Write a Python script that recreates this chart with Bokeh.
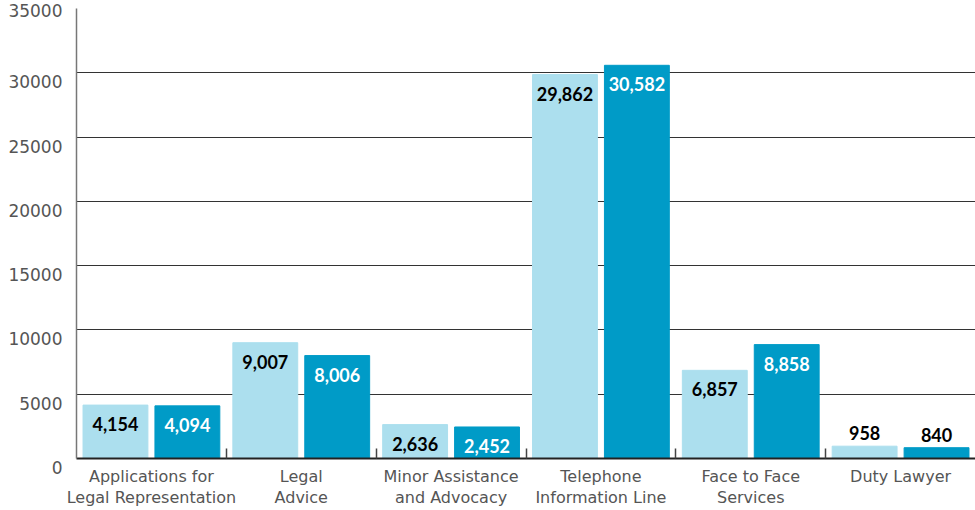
from bokeh.plotting import figure
from bokeh.models import ColumnDataSource, FixedTicker, Range1d
from bokeh.core.properties import value
from bokeh.embed import file_html
from bokeh.resources import INLINE

categories = ["Applications for\nLegal Representation", "Legal\nAdvice", "Minor Assistance\nand Advocacy",
              "Telephone\nInformation Line", "Face to Face\nServices", "Duty Lawyer"]
prev_year = [4154, 9007, 2636, 29862, 6857, 958]
curr_year = [4094, 8006, 2452, 30582, 8858, 840]
y_ticks = [0, 5000, 10000, 15000, 20000, 25000, 30000, 35000]

LIGHT = "#acdfee"
DARK = "#009bc7"
FONT = "Lato"
AXFONT = "DejaVu Sans"

n = len(categories)
centers = [i + 0.5 for i in range(n)]
off = 0.24
bw = 0.433

p = figure(width=975, height=510, output_backend="svg", toolbar_location=None,
           x_range=Range1d(0, n), y_range=Range1d(0, 35000),
           min_border_left=76, min_border_right=0, min_border_top=8, min_border_bottom=10)
p.outline_line_color = None
p.background_fill_color = "white"
p.border_fill_color = "white"

x_light = [c - off for c in centers]
x_dark = [c + off for c in centers]
p.vbar(x=x_light, top=prev_year, width=bw, color=LIGHT)
p.vbar(x=x_dark, top=curr_year, width=bw, color=DARK)

# value labels
def fmt(v):
    return "{:,}".format(v)

inside_l = {"x": [], "y": [], "t": []}
inside_d = {"x": [], "y": [], "t": []}
above = {"x": [], "y": [], "t": []}
for xl, xd, a, b in zip(x_light, x_dark, prev_year, curr_year):
    for xx, vv, tgt in ((xl, a, inside_l), (xd, b, inside_d)):
        if vv < 2000:
            above["x"].append(xx); above["y"].append(vv); above["t"].append(fmt(vv))
        else:
            tgt["x"].append(xx); tgt["y"].append(vv); tgt["t"].append(fmt(vv))

common = dict(text_align="center", text_font=value(FONT), text_font_style="bold", text_font_size="18px")
p.text(x="x", y="y", text="t", source=ColumnDataSource(inside_l), text_color="black",
       text_baseline="middle", y_offset=19, **common)
p.text(x="x", y="y", text="t", source=ColumnDataSource(inside_d), text_color="white",
       text_baseline="middle", y_offset=19, **common)
p.text(x="x", y="y", text="t", source=ColumnDataSource(above), text_color="black",
       text_baseline="bottom", y_offset=-6, **common)

# x axis
xa = p.xaxis[0]
xa.ticker = FixedTicker(ticks=centers, minor_ticks=[1, 2, 3, 4, 5])
xa.major_label_overrides = {c: lab for c, lab in zip(centers, categories)}
xa.major_tick_line_color = None
xa.major_tick_out = 0
xa.major_tick_in = 0
xa.minor_tick_in = 10
xa.minor_tick_out = 0
xa.minor_tick_line_color = "#444444"
xa.minor_tick_line_width = 1.5
xa.axis_line_color = "#222222"
xa.axis_line_width = 2
xa.major_label_text_font = AXFONT
xa.major_label_text_font_size = "16px"
xa.major_label_text_color = "#555555"
xa.major_label_text_line_height = 1.15
xa.major_label_standoff = 8
p.xgrid.grid_line_color = None

# y axis (labels sit just below their grid lines, as in the original;
# the top one is kept to a single line since it is pushed inside the canvas)
ya = p.yaxis[0]
ya.ticker = FixedTicker(ticks=y_ticks)
ya.major_label_overrides = {t: ("\n" + str(t)) if t != y_ticks[-1] else str(t) for t in y_ticks}
ya.major_tick_line_color = None
ya.major_tick_out = 0
ya.major_tick_in = 0
ya.minor_tick_line_color = None
ya.axis_line_color = "#777777"
ya.axis_line_width = 1.5
ya.major_label_text_font = AXFONT
ya.major_label_text_font_size = "17px"
ya.major_label_text_color = "#555555"
ya.major_label_text_line_height = 0.95
ya.major_label_standoff = 14
p.ygrid.ticker = FixedTicker(ticks=y_ticks)
p.ygrid.grid_line_color = "#333333"
p.ygrid.grid_line_width = 1

open("out.html", "w").write(file_html(p, INLINE))
